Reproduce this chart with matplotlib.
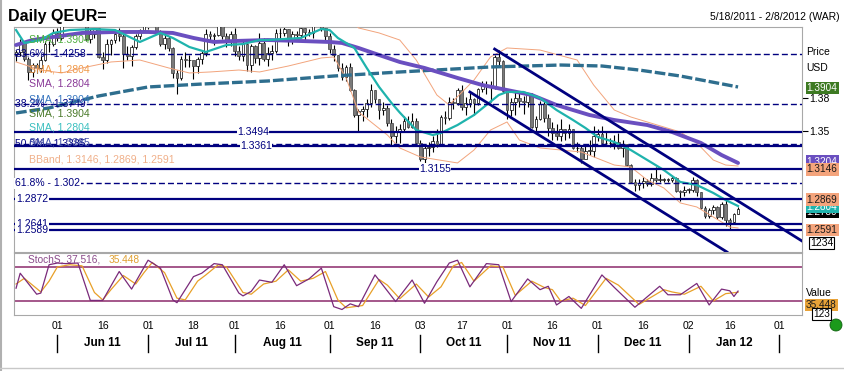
import matplotlib
matplotlib.use("Agg")
import matplotlib.pyplot as plt
import matplotlib.transforms as mtransforms
from matplotlib.lines import Line2D
from matplotlib.patches import Ellipse
import numpy as np
import pandas as pd

plt.rcParams["font.family"] = ["Liberation Sans", "DejaVu Sans"]

# --- daily EUR/USD candles, 18 May 2011 .. 18 Jan 2012 (open = previous close)
first_open = 1.4200
close = [
    1.4230, 1.4310, 1.4160, 1.4040, 1.4110, 1.4080, 1.4150, 1.4300, 1.4300, 1.4400,
    1.4360, 1.4500, 1.4640, 1.4600, 1.4670, 1.4590, 1.4510, 1.4350, 1.4390, 1.4450, 1.4180,
    1.4150, 1.4300, 1.4340, 1.4390, 1.4370, 1.4210, 1.4190, 1.4270, 1.4370, 1.4430, 1.4500,
    1.4500, 1.4540, 1.4420, 1.4300, 1.4360, 1.4260, 1.4030, 1.3990, 1.4160, 1.4150, 1.4150,
    1.4100, 1.4160, 1.4220, 1.4390, 1.4370, 1.4380, 1.4500, 1.4370, 1.4340, 1.4390,
    1.4240, 1.4190, 1.4300, 1.4110, 1.4280, 1.4170, 1.4310, 1.4160, 1.4220, 1.4240, 1.4400,
    1.4400, 1.4440, 1.4330, 1.4390, 1.4380, 1.4450, 1.4410, 1.4400, 1.4490, 1.4500, 1.4450, 1.4370,
    1.4250, 1.4200, 1.4080, 1.4000, 1.4090, 1.3880, 1.3650, 1.3680, 1.3700, 1.3760, 1.3880,
    1.3790, 1.3690, 1.3710, 1.3570, 1.3450, 1.3500, 1.3520, 1.3590, 1.3540, 1.3590, 1.3390,
    1.3240, 1.3340, 1.3350, 1.3410, 1.3380, 1.3630, 1.3620, 1.3770, 1.3760, 1.3880, 1.3720,
    1.3760, 1.3790, 1.3760, 1.3890, 1.3920, 1.3910, 1.3910, 1.4180, 1.4140, 1.3870,
    1.3690, 1.3770, 1.3800, 1.3780, 1.3770, 1.3830, 1.3540, 1.3610, 1.3750, 1.3620, 1.3530,
    1.3480, 1.3450, 1.3520, 1.3480, 1.3520, 1.3340, 1.3340, 1.3240, 1.3320, 1.3320, 1.3450,
    1.3470, 1.3390, 1.3390, 1.3390, 1.3400, 1.3340, 1.3380, 1.3190, 1.3030, 1.3000, 1.3020,
    1.3040, 1.3010, 1.3070, 1.3050, 1.3050, 1.3050, 1.3050, 1.3070, 1.2950, 1.2940, 1.2960,
    1.2960, 1.3050, 1.2940, 1.2790, 1.2720, 1.2770, 1.2800, 1.2710, 1.2830, 1.2680, 1.2660,
    1.2740, 1.2780,
]
high = [
    1.4245, 1.4345, 1.4330, 1.4180, 1.4130, 1.4125, 1.4190, 1.4330, 1.4330, 1.4440,
    1.4450, 1.4510, 1.4650, 1.4670, 1.4700, 1.4690, 1.4620, 1.4530, 1.4440, 1.4470, 1.4460,
    1.4230, 1.4350, 1.4350, 1.4420, 1.4450, 1.4390, 1.4280, 1.4290, 1.4390, 1.4440, 1.4520,
    1.4530, 1.4580, 1.4550, 1.4430, 1.4390, 1.4370, 1.4270, 1.4060, 1.4190, 1.4230, 1.4200,
    1.4130, 1.4180, 1.4240, 1.4440, 1.4420, 1.4400, 1.4530, 1.4510, 1.4400, 1.4420,
    1.4450, 1.4280, 1.4330, 1.4320, 1.4300, 1.4290, 1.4400, 1.4360, 1.4270, 1.4290, 1.4440,
    1.4450, 1.4480, 1.4440, 1.4420, 1.4420, 1.4470, 1.4450, 1.4440, 1.4500, 1.4540, 1.4520, 1.4480,
    1.4400, 1.4290, 1.4200, 1.4130, 1.4110, 1.4130, 1.3890, 1.3700, 1.3730, 1.3790, 1.3930,
    1.3880, 1.3790, 1.3770, 1.3740, 1.3610, 1.3550, 1.3560, 1.3640, 1.3640, 1.3670, 1.3620,
    1.3420, 1.3360, 1.3400, 1.3450, 1.3520, 1.3650, 1.3680, 1.3810, 1.3800, 1.3900, 1.3920,
    1.3810, 1.3850, 1.3800, 1.3900, 1.3960, 1.3960, 1.3960, 1.4200, 1.4247, 1.4150,
    1.3870, 1.3800, 1.3870, 1.3850, 1.3820, 1.3850, 1.3850, 1.3640, 1.3780, 1.3790, 1.3660,
    1.3580, 1.3560, 1.3610, 1.3520, 1.3560, 1.3520, 1.3400, 1.3370, 1.3370, 1.3420, 1.3550,
    1.3520, 1.3550, 1.3490, 1.3440, 1.3460, 1.3480, 1.3420, 1.3380, 1.3200, 1.3060, 1.3060,
    1.3080, 1.3060, 1.3110, 1.3170, 1.3100, 1.3070, 1.3070, 1.3090, 1.3080, 1.2960, 1.2990,
    1.2980, 1.3080, 1.3060, 1.2940, 1.2810, 1.2790, 1.2820, 1.2810, 1.2850, 1.2880, 1.2700,
    1.2750, 1.2800,
]
low = [
    1.4140, 1.4190, 1.4140, 1.3968, 1.4000, 1.4030, 1.4040, 1.4140, 1.4230, 1.4280,
    1.4330, 1.4340, 1.4480, 1.4560, 1.4570, 1.4560, 1.4480, 1.4330, 1.4310, 1.4360, 1.4170,
    1.4074, 1.4130, 1.4200, 1.4310, 1.4330, 1.4080, 1.4150, 1.4100, 1.4250, 1.4350, 1.4410,
    1.4440, 1.4480, 1.4400, 1.4280, 1.4250, 1.4240, 1.3990, 1.3837, 1.3970, 1.4090, 1.4090,
    1.3980, 1.4030, 1.4120, 1.4190, 1.4330, 1.4290, 1.4370, 1.4350, 1.4270, 1.4280,
    1.4190, 1.4150, 1.4140, 1.4050, 1.4040, 1.4130, 1.4110, 1.4140, 1.4100, 1.4150, 1.4220,
    1.4350, 1.4370, 1.4280, 1.4300, 1.4330, 1.4360, 1.4340, 1.4370, 1.4360, 1.4460, 1.4420, 1.4340,
    1.4220, 1.4140, 1.4050, 1.3970, 1.3960, 1.3870, 1.3630, 1.3495, 1.3590, 1.3630, 1.3720,
    1.3760, 1.3610, 1.3650, 1.3550, 1.3361, 1.3390, 1.3390, 1.3490, 1.3530, 1.3530, 1.3380,
    1.3220, 1.3146, 1.3270, 1.3310, 1.3350, 1.3370, 1.3560, 1.3600, 1.3700, 1.3740, 1.3690,
    1.3650, 1.3720, 1.3650, 1.3740, 1.3860, 1.3840, 1.3770, 1.3890, 1.4090, 1.3850,
    1.3610, 1.3640, 1.3650, 1.3720, 1.3660, 1.3720, 1.3530, 1.3480, 1.3600, 1.3580, 1.3450,
    1.3420, 1.3420, 1.3410, 1.3420, 1.3440, 1.3330, 1.3310, 1.3210, 1.3250, 1.3280, 1.3260,
    1.3410, 1.3380, 1.3380, 1.3350, 1.3330, 1.3330, 1.3260, 1.3180, 1.3020, 1.2945, 1.2960,
    1.2980, 1.2990, 1.2990, 1.3030, 1.3030, 1.3030, 1.3030, 1.3030, 1.2940, 1.2858, 1.2900,
    1.2930, 1.2940, 1.2900, 1.2780, 1.2700, 1.2700, 1.2740, 1.2690, 1.2690, 1.2624, 1.2589,
    1.2650, 1.2740,
]

# --- indicator lines (trading-day number, value)
sma20_day = [0, 2, 6, 9, 13, 19, 24, 28, 30, 35, 38, 42, 46, 51, 55, 59, 61, 69, 74, 76, 78,
             82, 85, 88, 91, 93, 97, 101, 103, 107, 111, 114, 117, 119, 123, 127, 131, 135,
             138, 141, 145, 149, 153, 157, 161, 165, 169, 172, 175]
sma20_val = [1.4429, 1.4310, 1.4337, 1.4402, 1.4429, 1.4438, 1.4429, 1.4356, 1.4319, 1.4402,
             1.4356, 1.4273, 1.4227, 1.4291, 1.4300, 1.4337, 1.4337, 1.4356, 1.4438, 1.4429,
             1.4356, 1.4264, 1.4080, 1.3905, 1.3758, 1.3670, 1.3509, 1.3463, 1.3482, 1.3555,
             1.3647, 1.3739, 1.3831, 1.3859, 1.3859, 1.3804, 1.3693, 1.3601, 1.3528, 1.3445,
             1.3399, 1.3325, 1.3233, 1.3141, 1.3031, 1.3003, 1.2930, 1.2865, 1.2810]
sma50_day = [0, 4, 9, 16, 24, 32, 38, 43, 48, 53, 61, 69, 76, 79, 83, 88, 93, 99, 107, 113,
             119, 125, 131, 139, 145, 153, 159, 166, 171, 175]
sma50_val = [1.4291, 1.4337, 1.4365, 1.4402, 1.4411, 1.4411, 1.4402, 1.4356, 1.4319, 1.4328,
             1.4337, 1.4328, 1.4319, 1.4310, 1.4264, 1.4199, 1.4135, 1.4080, 1.3988, 1.3923,
             1.3877, 1.3831, 1.3739, 1.3647, 1.3601, 1.3555, 1.3491, 1.3390, 1.3279, 1.3206]
sma200_day = [0, 8, 20, 32, 45, 61, 77, 93, 115, 132, 142, 151, 161, 175]
sma200_val = [1.3666, 1.3712, 1.3822, 1.3905, 1.3932, 1.3960, 1.4006, 1.4043, 1.4089, 1.4107,
              1.4098, 1.4061, 1.4006, 1.3905]
bb_up_day = [0, 10, 20, 30, 40, 50, 60, 70, 80, 83, 88, 93, 97, 102, 105, 111, 115, 119, 127,
             136, 140, 145, 149, 157, 161, 165, 169, 172, 175]
bb_up_val = [1.4480, 1.4600, 1.4650, 1.4600, 1.4620, 1.4520, 1.4500, 1.4560, 1.4580, 1.4448,
             1.4402, 1.4337, 1.4153, 1.3831, 1.3739, 1.3969, 1.4181, 1.4264, 1.4245, 1.4153,
             1.3923, 1.3693, 1.3629, 1.3537, 1.3491, 1.3390, 1.3233, 1.3187, 1.3178]
bb_lo_day = [0, 6, 11, 16, 23, 30, 37, 42, 47, 54, 59, 66, 74, 77, 80, 83, 90, 93, 98, 107,
             111, 115, 119, 122, 127, 137, 145, 149, 153, 157, 161, 165, 169, 173, 175]
bb_lo_val = [1.4135, 1.4061, 1.4034, 1.4080, 1.4135, 1.4153, 1.4080, 1.4034, 1.4043, 1.4061,
             1.4043, 1.4098, 1.4172, 1.4181, 1.3988, 1.3675, 1.3463, 1.3344, 1.3261, 1.3206,
             1.3325, 1.3509, 1.3583, 1.3417, 1.3344, 1.3307, 1.3187, 1.3169, 1.3049, 1.2976,
             1.2838, 1.2801, 1.2709, 1.2617, 1.2608]

stoch_k_day = [0, 1, 5, 6, 8, 10, 12, 15, 18, 21, 25, 28, 32, 35, 38, 39, 43, 45, 48, 50, 54,
               55, 57, 59, 62, 65, 68, 71, 74, 77, 79, 81, 83, 87, 92, 96, 99, 102, 105, 107,
               110, 114, 117, 120, 124, 127, 129, 131, 134, 137, 142, 145, 150, 156, 158, 161,
               165, 168, 171, 173, 174, 175]
stoch_k_val = [42.6, 69, 32, 34, 84, 87, 86, 87, 21, 21, 72, 41, 92, 78, 22, 17, 63, 69, 86, 84,
               34, 29, 37, 57, 53, 84, 47, 59, 78, 10, 5, 15, 10, 66, 19, 57, 16, 54, 87, 92,
               45, 86, 84, 19, 59, 40, 46, 13, 28, 7, 66, 44, 9, 46, 31, 31, 51, 13, 41, 38, 28,
               37.5]
stoch_d_day = [0, 2, 4, 6, 8, 10, 13, 16, 19, 21, 23, 26, 29, 31, 33, 36, 39, 41, 44, 46, 49, 51,
               55, 57, 60, 63, 66, 69, 72, 75, 78, 80, 82, 84, 88, 90, 93, 97, 100, 103, 106, 108,
               111, 115, 118, 121, 125, 128, 130, 132, 135, 138, 143, 146, 151, 157, 159, 162,
               166, 169, 172, 175]
stoch_d_val = [50, 60, 48, 36, 55, 80, 84, 82, 35, 22, 40, 65, 50, 70, 88, 70, 25, 22, 55, 66, 84,
               80, 35, 32, 50, 55, 75, 55, 60, 72, 22, 8, 10, 12, 58, 48, 24, 50, 27, 45, 82, 88,
               55, 82, 80, 30, 55, 44, 40, 20, 25, 12, 60, 48, 14, 40, 36, 32, 46, 20, 33, 35.4]

# --- drawn studies
fib_levels = [1.4208, 1.3749, 1.3385, 1.3020]
fib_labels = ["23.6% - 1.4258", "38.2% - 1.3749", "50.0% - 1.3385", "61.8% - 1.302"]
hline_levels = [1.3494, 1.3361, 1.3155, 1.2872, 1.2641, 1.2589]
hline_labels = ["1.3494", "1.3361", "1.3155", "1.2872", "1.2641", "1.2589"]
channel_upper_day = [116, 190.5]
channel_upper_val = [1.4254, 1.2488]
channel_lower_day = [110, 172.3]
channel_lower_val = [1.3859, 1.2387]

tick_days = ["2011-06-01", "2011-06-16", "2011-07-01", "2011-07-18", "2011-08-01", "2011-08-16",
             "2011-09-01", "2011-09-16", "2011-10-03", "2011-10-17", "2011-11-01", "2011-11-16",
             "2011-12-01", "2011-12-16", "2012-01-02", "2012-01-16", "2012-02-01"]

NAVY = "#00007f"
W, H = 845, 371

dates = pd.bdate_range("2011-05-18", "2012-02-08")
n = len(close)
x = np.arange(n)
c = np.array(close)
o = np.concatenate([[first_open], c[:-1]])
hi = np.array(high)
lo = np.array(low)

fig = plt.figure(figsize=(W / 100, H / 100), dpi=100)
fig.patch.set_facecolor("white")


def fx(px):
    return px / W


def fy(py):
    return 1 - py / H


ax = fig.add_axes([fx(14), fy(252), 788 / W, 225 / H])
ax2 = fig.add_axes([fx(14), fy(315), 788 / W, 62 / H], sharex=ax)
for a in (ax, ax2):
    for s in a.spines.values():
        s.set_color("#a8a8a8")
        s.set_linewidth(0.8)
ax.set_xlim(-0.5, len(dates) - 0.5)
ax.set_ylim(1.23868, 1.44568)
ax2.set_ylim(-4.7, 104.7)

# candles
up = c >= o
ax.vlines(x, lo, hi, color="black", lw=0.8, zorder=2)
body_lo = np.minimum(o, c)
body_h = np.maximum(np.abs(c - o), 0.0004)
ax.bar(x[up], body_h[up], bottom=body_lo[up], width=0.66, color="white",
       edgecolor="black", linewidth=0.5, zorder=3)
ax.bar(x[~up], body_h[~up], bottom=body_lo[~up], width=0.66, color="#7a7a7a",
       edgecolor="#404040", linewidth=0.5, zorder=3)

# indicators
ax.plot(bb_up_day, bb_up_val, color="#f2a47c", lw=0.7, zorder=4)
ax.plot(bb_lo_day, bb_lo_val, color="#f2a47c", lw=0.7, zorder=4)
ax.plot(sma200_day, sma200_val, color="#2e6e8e", lw=2.4, dashes=(3.2, 0.9), zorder=5)
ax.plot(sma50_day, sma50_val, color="#6a4fc0", lw=2.8, zorder=5, solid_capstyle="round")
ax.plot(sma20_day, sma20_val, color="#1fb3ad", lw=1.6, zorder=5)

# horizontal studies
ax.hlines(fib_levels, -0.5, len(dates) - 0.5, color=NAVY, lw=1.0,
          linestyles=(0, (4.3, 2.2)), zorder=6)
ax.hlines(hline_levels, -0.5, len(dates) - 0.5, color=NAVY, lw=1.6, zorder=6)
ax.plot(channel_upper_day, channel_upper_val, color=NAVY, lw=2, zorder=6)
ax.plot(channel_lower_day, channel_lower_val, color=NAVY, lw=2, zorder=6)

blend = mtransforms.blended_transform_factory(ax.transAxes, ax.transData)


def axfrac(px):
    return (px - 14) / 788


box_kw = dict(boxstyle="square,pad=0.05", fc="white", ec="none")
for i, (lvl, txt) in enumerate(zip(fib_levels, fib_labels)):
    # the upper fib labels sit among candles and legend text, without a backing box
    ax.text(axfrac(15), lvl, txt, transform=blend, fontsize=7.5, color=NAVY, ha="left",
            va="center", zorder=7, bbox=box_kw if i == 3 else None)
label_px = [253, 256, 435, 16, 16, 16]
for lvl, txt, px in zip(hline_levels, hline_labels, label_px):
    ax.text(axfrac(px), lvl, txt, transform=blend, fontsize=7.5, color=NAVY,
            ha="center" if px > 100 else "left", va="center", zorder=7, bbox=box_kw)

# legend column (overlapping, as in the terminal)
legend_rows = [(39, "SMA, 1.3904", "#4fae3f"), (69, "SMA, 1.2804", "#f09a4a"),
               (83, "SMA, 1.2804", "#8a3a98"), (99, "SMA, 1.3904", "#3a78c0"),
               (114, "SMA, 1.3904", "#4a7a2a"), (128, "SMA, 1.2804", "#3cc0c0"),
               (143, "SMA, 1.3385", "#4050a8"),
               (159, "BBand, 1.3146, 1.2869, 1.2591", "#f0b08a")]
for py, txt, col in legend_rows:
    fig.text(fx(29), fy(py), txt, fontsize=7.6, color=col, va="center", zorder=8)

# right price axis (lower tick labels sit behind the value boxes, so only two show)
ax.yaxis.tick_right()
ax.set_yticks([1.38, 1.35])
ax.set_yticklabels(["1.38", "1.35"])
ax.tick_params(axis="y", length=4, width=0.8, pad=1, labelsize=7.5, direction="out")
ax.tick_params(axis="x", bottom=False, labelbottom=False)

value_boxes = [(1.3896, "1.3904", "#3d7a22", "white"),
               (1.3218, "1.3204", "#6a4fc0", "white"),
               (1.3146, "1.3146", "#f4a47c", "#1a1a1a"),
               (1.2755, "1.2780", "black", "white"),
               (1.2800, "1.2804", "#1fb3ad", "white"),
               (1.2869, "1.2869", "#f4a47c", "#1a1a1a"),
               (1.2591, "1.2591", "#f4a47c", "#1a1a1a")]
for i, (v, txt, fc, tc) in enumerate(value_boxes):
    ax.text(1.006, v, txt, transform=blend, fontsize=7.2, color=tc, ha="left", va="center",
            clip_on=False, zorder=20 + i,
            bbox=dict(boxstyle="square,pad=0.12", fc=fc, ec="none"))

fig.text(fx(806), fy(52), "Price", fontsize=7.5, va="center")
fig.text(fx(806), fy(68), "USD", fontsize=7.5, va="center")
fig.text(fx(810), fy(243), "1234", fontsize=7.5, va="center",
         bbox=dict(boxstyle="square,pad=0.1", fc="white", ec="black", lw=0.8))

# stochastic panel
ax2.axhline(80, color="#8b2a6b", lw=1.1)
ax2.axhline(20, color="#8b2a6b", lw=1.1)
ax2.plot(stoch_d_day, stoch_d_val, color="#e8a028", lw=0.9)
ax2.plot(stoch_k_day, stoch_k_val, color="#7a2a7a", lw=0.9)
ax2.set_yticks([])
fig.text(fx(28), fy(260), "StochS, 37.516, ", fontsize=7.3, color="#8a4a8a", va="center")
fig.text(fx(109), fy(260), "35.448", fontsize=7.3, color="#e0a030", va="center")
fig.text(fx(806), fy(293), "Value", fontsize=7.5, va="center")
fig.text(fx(806), fy(305), "35.448", fontsize=7.2, va="center", color="#1a1a1a",
         bbox=dict(boxstyle="square,pad=0.12", fc="#e8a238", ec="none"))
fig.text(fx(813), fy(314), "123", fontsize=7.2, va="center",
         bbox=dict(boxstyle="square,pad=0.08", fc="white", ec="black", lw=0.8))

# date axis
tick_pos = dates.get_indexer(pd.to_datetime(tick_days))
ax2.set_xticks(tick_pos)
ax2.set_xticklabels([d[-2:] for d in tick_days])
ax2.tick_params(axis="x", length=0, pad=4, labelsize=7.5)

month_start = dates.to_series().groupby(dates.to_period("M")).head(1)
month_pos = dates.get_indexer(month_start.index)[1:]
month_names = [d.strftime("%b %y") for d in month_start.index[1:-1]]
mblend = mtransforms.blended_transform_factory(ax2.transData, fig.transFigure)
for p in month_pos:
    fig.add_artist(Line2D([p, p], [fy(335), fy(352)], transform=mblend, color="black", lw=1))
for p0, p1, name in zip(month_pos[:-1], month_pos[1:], month_names):
    ax2.text((p0 + p1) / 2, fy(343), name, transform=mblend, ha="center", va="center",
             fontsize=8.5, fontweight="bold", clip_on=False)

# header
fig.text(fx(8), fy(16), "Daily QEUR=", fontsize=11.5, fontweight="bold", va="center")
fig.text(fx(840), fy(17), "5/18/2011 - 2/8/2012 (WAR)", fontsize=7.5, ha="right", va="center")

fig.add_artist(Ellipse((fx(836), fy(325)), 12 / W, 12 / H, transform=fig.transFigure,
                       fc="#1b9a1b", ec="#106010", lw=0.6))
fig.add_artist(Line2D([fx(1), fx(1)], [0, 1], transform=fig.transFigure, color="#b0b0b0", lw=1.5))
fig.add_artist(Line2D([0, 1], [fy(368), fy(368)], transform=fig.transFigure, color="#c8c8c8", lw=1))

fig.savefig("out.png", dpi=100, facecolor="white")
